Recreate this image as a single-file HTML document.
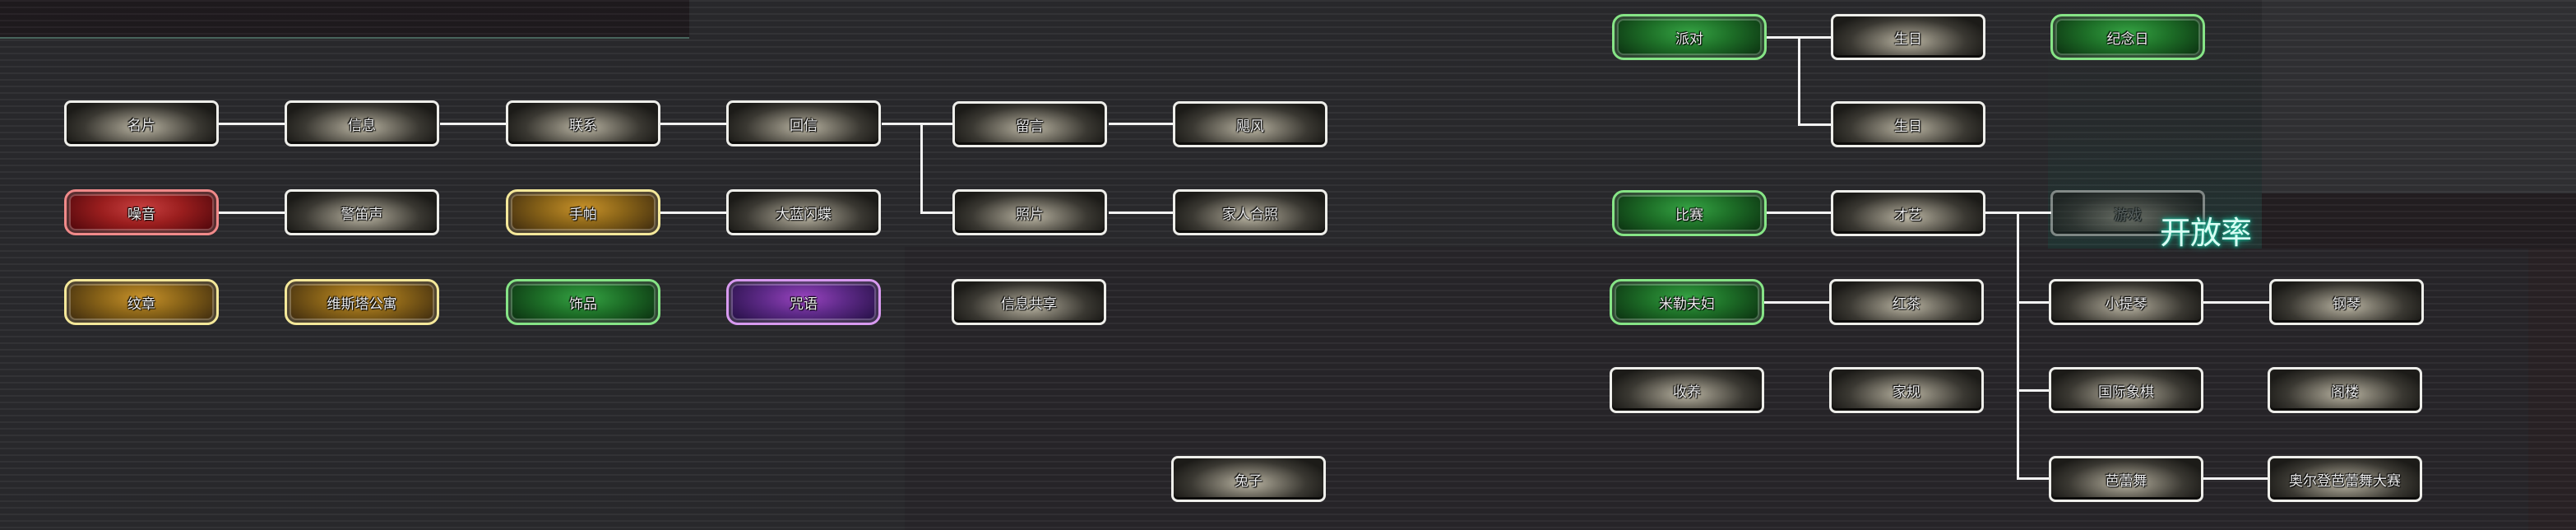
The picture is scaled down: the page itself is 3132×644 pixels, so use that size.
<!DOCTYPE html>
<html><head><meta charset="utf-8">
<style>
html,body{margin:0;padding:0}
body{width:3132px;height:644px;position:relative;overflow:hidden;background:#2b2b2e;
font-family:"Liberation Sans","Noto Sans CJK SC",sans-serif}
.scan{position:absolute;inset:0;background:repeating-linear-gradient(to bottom,rgba(255,255,255,0.035) 0 2px,rgba(0,0,0,0.06) 2px 8px)}
.band{position:absolute}
.n{position:absolute;width:188px;height:56px;box-sizing:border-box;border:3px solid #eeeeea;border-radius:8px;
background:radial-gradient(ellipse 55% 75% at 50% 60%,#bdb8a6 0%,#7a766a 35%,#3a3832 70%,#1c1b18 100%);
display:flex;align-items:center;justify-content:center;color:#eeeeee;font-size:17px;
text-shadow:0 0 2px #000,1px 1px 1px #000,-1px -1px 1px #000;box-shadow:inset 0 -3px 0 #0d0c0a}
.c{border-radius:14px;box-shadow:inset 0 0 0 3px rgba(0,0,0,0.35),inset 0 0 0 5px rgba(255,255,255,0.25)}
.red{border-color:#f08a8a;background:radial-gradient(ellipse 55% 80% at 50% 40%,#c84040 0%,#9a1e1e 50%,#5a0a0e 100%)}
.gold{border-color:#f4e89a;background:radial-gradient(ellipse 55% 80% at 50% 40%,#c8922a 0%,#8a6418 50%,#4a3410 100%)}
.green{border-color:#86e486;background:radial-gradient(ellipse 55% 80% at 50% 40%,#36a444 0%,#1e7028 50%,#0e3a14 100%)}
.purple{border-color:#d89af0;background:radial-gradient(ellipse 55% 80% at 50% 40%,#9a44c0 0%,#5e2a88 50%,#2e1450 100%)}
.h{position:absolute;height:3px;background:#f2f2f2}
.v{position:absolute;width:3px;background:#f2f2f2}
</style></head><body>
<div class="band" style="left:0;top:0;width:838px;height:45px;background:#201b1f"></div>
<div class="band" style="left:0;top:45px;width:838px;height:2px;background:#4d6a62"></div>
<div class="band" style="left:1100px;top:300px;width:1974px;height:344px;background:#28262a"></div>
<div class="band" style="left:2750px;top:0;width:382px;height:235px;background:#323235"></div>
<div class="band" style="left:2750px;top:235px;width:382px;height:67px;background:#241f22"></div>
<div class="band" style="left:3074px;top:302px;width:58px;height:342px;background:#2a2326"></div>
<div class="band" style="left:2490px;top:0;width:260px;height:302px;background:linear-gradient(to bottom,rgba(20,60,55,0) 0%,rgba(20,60,55,0.12) 50%,rgba(20,75,65,0.35) 100%)"></div>
<div class="scan"></div>

<div class="h" style="left:266px;top:149px;width:80px"></div>
<div class="h" style="left:535px;top:149px;width:80px"></div>
<div class="h" style="left:803px;top:149px;width:80px"></div>
<div class="h" style="left:1072px;top:149px;width:86px"></div>
<div class="v" style="left:1119px;top:149px;height:111px"></div>
<div class="h" style="left:1119px;top:257px;width:40px"></div>
<div class="h" style="left:1348px;top:149px;width:78px"></div>
<div class="h" style="left:1348px;top:257px;width:78px"></div>
<div class="h" style="left:266px;top:257px;width:80px"></div>
<div class="h" style="left:803px;top:257px;width:80px"></div>
<div class="h" style="left:2147px;top:44px;width:80px"></div>
<div class="v" style="left:2186px;top:44px;height:109px"></div>
<div class="h" style="left:2186px;top:150px;width:40px"></div>
<div class="h" style="left:2147px;top:257px;width:80px"></div>
<div class="h" style="left:2414px;top:257px;width:80px"></div>
<div class="v" style="left:2452px;top:257px;height:326px"></div>
<div class="h" style="left:2145px;top:366px;width:80px"></div>
<div class="h" style="left:2452px;top:366px;width:40px"></div>
<div class="h" style="left:2452px;top:473px;width:40px"></div>
<div class="h" style="left:2452px;top:580px;width:40px"></div>
<div class="h" style="left:2679px;top:366px;width:80px"></div>
<div class="h" style="left:2679px;top:580px;width:80px"></div>

<div class="n" style="left:78px;top:122px">名片</div>
<div class="n" style="left:346px;top:122px">信息</div>
<div class="n" style="left:615px;top:122px">联系</div>
<div class="n" style="left:883px;top:122px">回信</div>
<div class="n" style="left:1158px;top:123px">留言</div>
<div class="n" style="left:1426px;top:123px">飓风</div>
<div class="n c red" style="left:78px;top:230px">噪音</div>
<div class="n" style="left:346px;top:230px">警笛声</div>
<div class="n c gold" style="left:615px;top:230px">手帕</div>
<div class="n" style="left:883px;top:230px">大蓝闪蝶</div>
<div class="n" style="left:1158px;top:230px">照片</div>
<div class="n" style="left:1426px;top:230px">家人合照</div>
<div class="n c gold" style="left:78px;top:339px">纹章</div>
<div class="n c gold" style="left:346px;top:339px">维斯塔公寓</div>
<div class="n c green" style="left:615px;top:339px">饰品</div>
<div class="n c purple" style="left:883px;top:339px">咒语</div>
<div class="n" style="left:1157px;top:339px">信息共享</div>
<div class="n" style="left:1424px;top:554px">兔子</div>

<div class="n c green" style="left:1960px;top:17px">派对</div>
<div class="n" style="left:2226px;top:17px">生日</div>
<div class="n c green" style="left:2493px;top:17px">纪念日</div>
<div class="n" style="left:2226px;top:123px">生日</div>
<div class="n c green" style="left:1960px;top:231px">比赛</div>
<div class="n" style="left:2226px;top:231px">才艺</div>
<div class="n" style="left:2493px;top:231px;opacity:0.45;color:#999">游戏</div>
<div class="n c green" style="left:1957px;top:339px">米勒夫妇</div>
<div class="n" style="left:2224px;top:339px">红茶</div>
<div class="n" style="left:2491px;top:339px">小提琴</div>
<div class="n" style="left:2759px;top:339px">钢琴</div>
<div class="n" style="left:1957px;top:446px">收养</div>
<div class="n" style="left:2224px;top:446px">家规</div>
<div class="n" style="left:2491px;top:446px">国际象棋</div>
<div class="n" style="left:2757px;top:446px">阁楼</div>
<div class="n" style="left:2491px;top:554px">芭蕾舞</div>
<div class="n" style="left:2757px;top:554px">奥尔登芭蕾舞大赛</div>

<div style="position:absolute;left:2626px;top:252px;font-size:38px;color:#d8fff4;letter-spacing:-1px;
text-shadow:0 0 3px #1fae92,0 0 6px #1fae92,0 0 10px #138a72;font-family:'Liberation Sans','Noto Sans CJK SC',sans-serif">开放率</div>
</body></html>
